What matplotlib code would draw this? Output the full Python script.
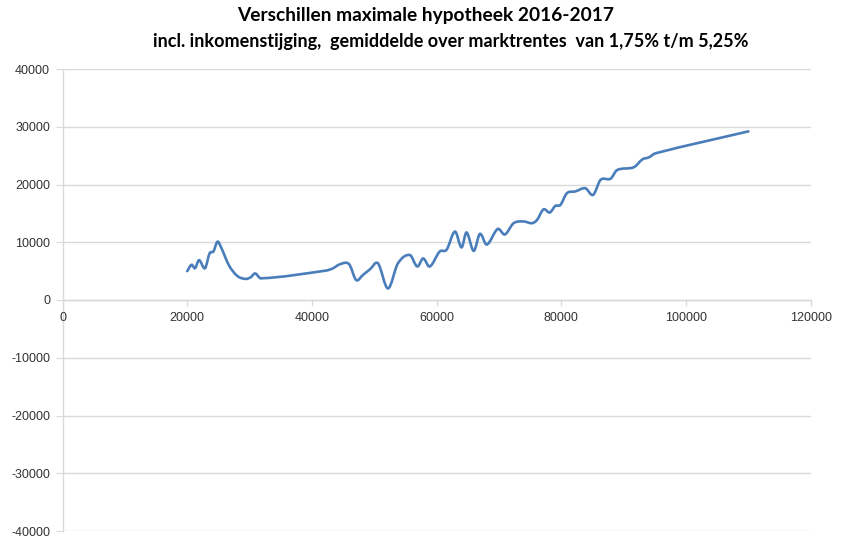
import matplotlib
matplotlib.use("Agg")
import matplotlib.pyplot as plt
import numpy as np
from matplotlib.path import Path
from matplotlib.patches import PathPatch

# inkomen (x) en verschil maximale hypotheek (y)
inkomen = [20000, 20700, 21250, 21900, 22850, 23600, 24200, 24850, 25400, 26700,
           28050, 29400, 30200, 30900, 31800, 42300, 43400, 44300, 45500, 46100,
           47100, 48200, 49300, 50600, 52200, 53800, 55700, 56900, 57850, 58900,
           60500, 61600, 62950, 64000, 64800, 65950, 66950, 68050, 69800, 70950,
           72350, 73950, 75300, 76100, 77150, 78150, 79050, 79850, 80900, 82250,
           83850, 85100, 86300, 87900, 88950, 91650, 93000, 94050, 95100, 110000]
verschil = [5000, 6100, 5500, 6900, 5500, 8100, 8400, 10100, 9200, 6000,
            4150, 3650, 3950, 4600, 3750, 5100, 5500, 6100, 6450, 6000,
            3450, 4350, 5300, 6350, 2000, 6350, 7800, 5800, 7200, 5800,
            8400, 8700, 11850, 9100, 11700, 8500, 11450, 9600, 12300, 11350,
            13300, 13600, 13300, 13850, 15700, 15150, 16300, 16450, 18500, 18800,
            19350, 18200, 20800, 21000, 22500, 23000, 24350, 24700, 25400, 29200]

x_ticks = [0, 20000, 40000, 60000, 80000, 100000, 120000]
y_ticks = [-40000, -30000, -20000, -10000, 0, 10000, 20000, 30000, 40000]

titel1 = "Verschillen maximale hypotheek 2016-2017"
titel2 = "incl. inkomenstijging,  gemiddelde over marktrentes  van 1,75% t/m 5,25%"

LINE = "#4A7EBB"
GRID = "#D9D9D9"
TXT = "#333333"


def smooth_path(xs, ys):
    # vloeiende lijn (zoals Excel), bezier segmenten met hellingen uit de buurpunten
    x = np.asarray(xs, float)
    y = np.asarray(ys, float)
    n = len(x)
    m = np.zeros(n)
    m[0] = (y[1] - y[0]) / (x[1] - x[0])
    m[-1] = (y[-1] - y[-2]) / (x[-1] - x[-2])
    m[1:-1] = (y[2:] - y[:-2]) / (x[2:] - x[:-2])
    verts = [(x[0], y[0])]
    codes = [Path.MOVETO]
    for i in range(n - 1):
        h = x[i + 1] - x[i]
        verts += [(x[i] + h / 3, y[i] + m[i] * h / 3),
                  (x[i + 1] - h / 3, y[i + 1] - m[i + 1] * h / 3),
                  (x[i + 1], y[i + 1])]
        codes += [Path.CURVE4] * 3
    return Path(verts, codes)


fig = plt.figure(figsize=(8.41, 5.37), dpi=100)
ax = fig.add_axes([62.5 / 841, 1 - 531 / 537, (810.7 - 62.5) / 841, (531 - 69) / 537])

ax.add_patch(PathPatch(smooth_path(inkomen, verschil), fill=False,
                       edgecolor=LINE, lw=1.9, capstyle="round", joinstyle="round", zorder=3))

ax.set_xlim(0, 120000)
ax.set_ylim(-40000, 40000)
ax.set_xticks([])
ax.set_yticks(y_ticks)
ax.set_yticklabels([str(v) for v in y_ticks])

ax.yaxis.grid(True, color=GRID, lw=1)
ax.set_axisbelow(True)
for s in ["top", "right", "bottom"]:
    ax.spines[s].set_visible(False)
ax.spines["left"].set_color(GRID)
ax.spines["left"].set_linewidth(1)
ax.tick_params(axis="y", length=5, color=GRID, labelsize=9, labelcolor=TXT, pad=4)
for lbl in ax.get_yticklabels():
    lbl.set_family("Liberation Sans")

# x-as ligt op y=0
ax.axhline(0, color=GRID, lw=1, zorder=1)
for v in x_ticks:
    ax.plot([v, v], [0, -900], color=GRID, lw=1, clip_on=False, zorder=1)
    ax.text(v, -2100, str(v), ha="center", va="top", fontsize=9, color=TXT,
            family="Liberation Sans")

fig.text(426 / 841, 1 - 16 / 537, titel1, ha="center", va="center", fontsize=13.8,
         fontweight="bold", family="Lato")
fig.text(451 / 841, 1 - 42 / 537, titel2, ha="center", va="center", fontsize=13,
         fontweight="bold", family="Lato")

fig.savefig("out.png", dpi=100)
